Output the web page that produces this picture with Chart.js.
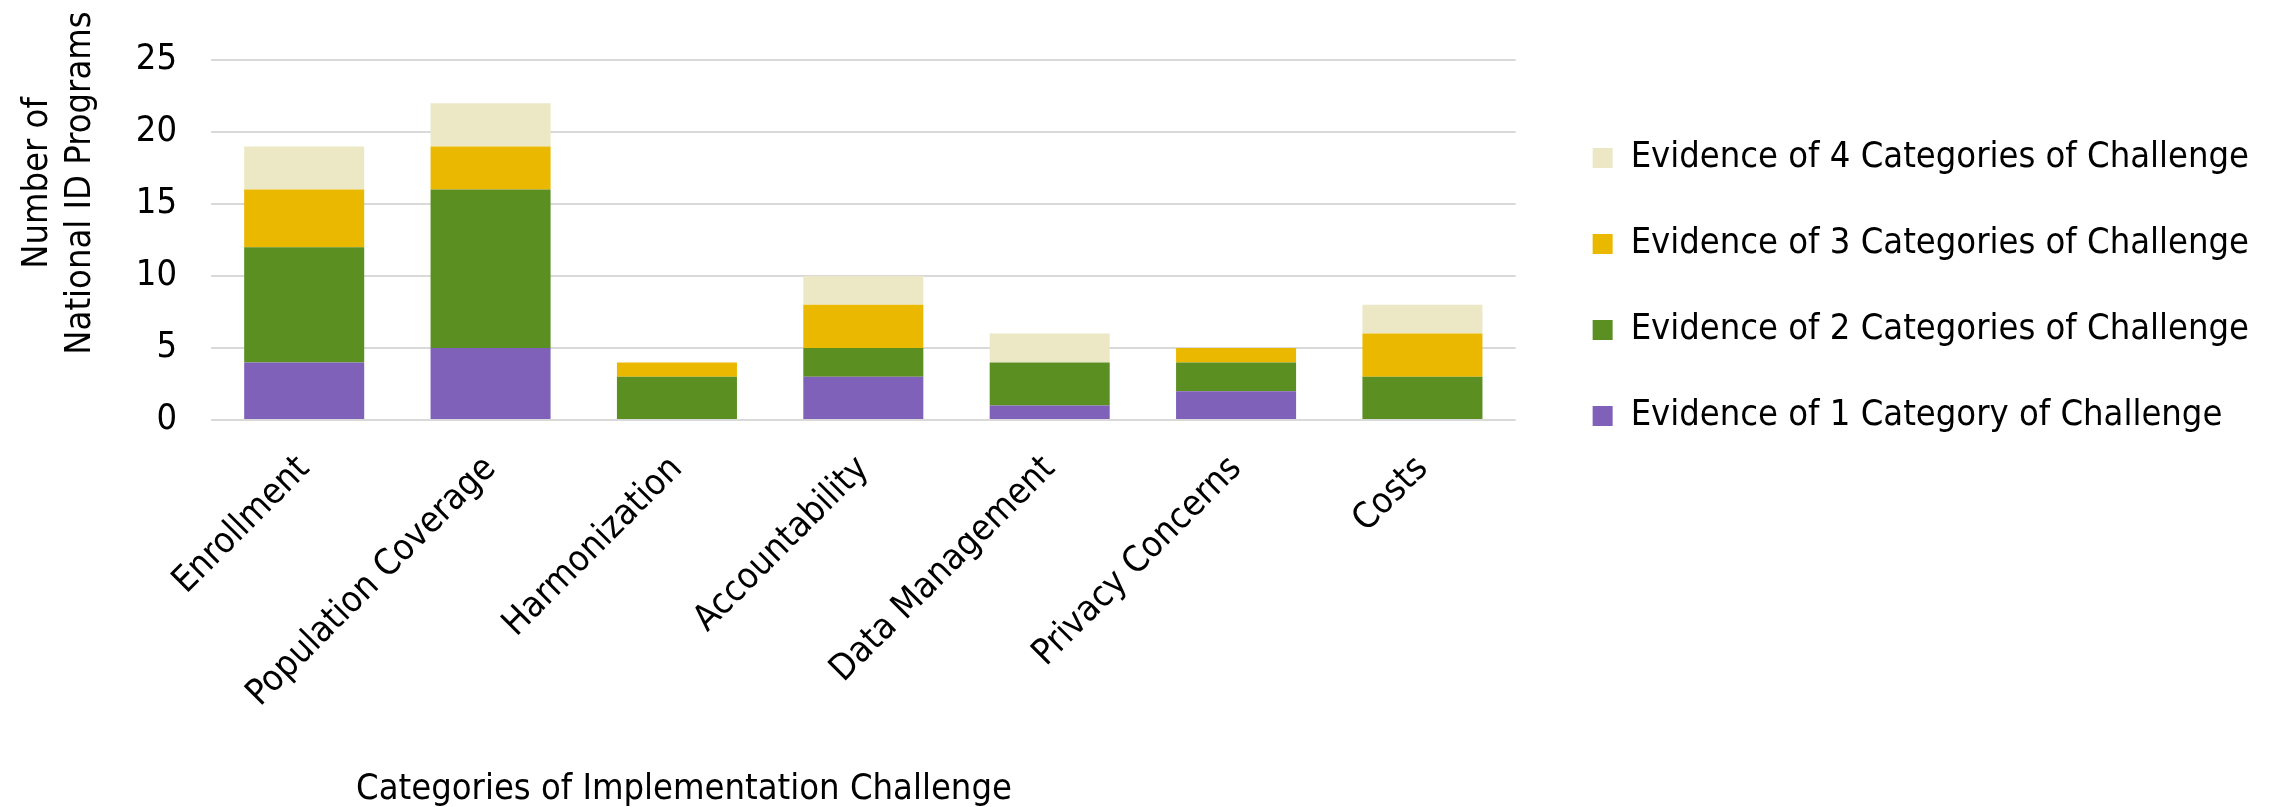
<!DOCTYPE html>
<html>
<head>
<meta charset="utf-8">
<script src="https://cdn.jsdelivr.net/npm/chart.js@4/dist/chart.umd.min.js"></script>
<style>
    html, body { margin: 0; padding: 0; background: #fff; }
    #wrap { width: 2285px; height: 807px; position: relative; }
</style>
</head>
<body>
<div id="wrap"><canvas id="chart"></canvas></div>
<script>
const categories = ['Enrollment', 'Population Coverage', 'Harmonization', 'Accountability',
    'Data Management', 'Privacy Concerns', 'Costs'];

// programs per challenge, split by how many challenge categories they show
const oneCategory = [4, 5, 0, 3, 1, 2, 0];
const twoCategories = [8, 11, 3, 2, 3, 2, 3];
const threeCategories = [4, 3, 1, 3, 0, 1, 3];
const fourCategories = [3, 3, 0, 2, 2, 0, 2];

const seriesNames = [
    'Evidence of 1 Category of Challenge',
    'Evidence of 2 Categories of Challenge',
    'Evidence of 3 Categories of Challenge',
    'Evidence of 4 Categories of Challenge'
];
const yTicks = [0, 5, 10, 15, 20, 25];
const yTitle = ['Number of', 'National ID Programs'];
const xTitle = 'Categories of Implementation Challenge';

const FONT = '"DejaVu Sans Condensed", "DejaVu Sans", sans-serif';
const colors = ['#7f61b9', '#5b8f22', '#ebb800', '#ece8c6'];

// axis titles sit off-centre in the original, so draw them by hand
const axisTitles = {
    id: 'axisTitles',
    afterDraw(chart) {
        const ctx = chart.ctx;
        ctx.save();
        ctx.fillStyle = '#000';
        ctx.font = '36px ' + FONT;
        ctx.textAlign = 'center';
        ctx.textBaseline = 'alphabetic';
        const xs = [47, 90];
        yTitle.forEach((line, i) => {
            ctx.save();
            ctx.translate(xs[i], 183);
            ctx.rotate(-Math.PI / 2);
            ctx.fillText(line, 0, 0);
            ctx.restore();
        });
        ctx.fillText(xTitle, 684, 799);
        ctx.restore();
    }
};

const datasets = [oneCategory, twoCategories, threeCategories, fourCategories].map((vals, i) => ({
    label: seriesNames[i],
    data: vals,
    backgroundColor: colors[i],
    borderWidth: 0,
    categoryPercentage: 1,
    barPercentage: 0.644
}));

new Chart(document.getElementById('chart'), {
    type: 'bar',
    data: { labels: categories, datasets: datasets },
    plugins: [axisTitles],
    options: {
        responsive: true,
        maintainAspectRatio: false,
        animation: false,
        layout: { padding: { top: 60, right: 26, bottom: 0, left: 0 } },
        plugins: {
            tooltip: { enabled: false },
            legend: {
                position: 'right',
                align: 'start',
                reverse: true,
                maxWidth: 900,
                title: { display: true, text: '', padding: 0, font: { size: 25 } },
                labels: {
                    boxWidth: 20,
                    boxHeight: 20,
                    padding: 50,
                    color: '#000',
                    font: { family: FONT, size: 36 }
                }
            }
        },
        scales: {
            x: {
                stacked: true,
                grid: { display: false },
                border: { display: false },
                ticks: {
                    autoSkip: false,
                    maxRotation: 45,
                    minRotation: 45,
                    padding: 20,
                    color: '#000',
                    font: { family: FONT, size: 36 }
                },
                afterFit: s => { s.height = 387; }
            },
            y: {
                stacked: true,
                min: 0,
                max: 25,
                afterBuildTicks: s => { s.ticks = yTicks.map(v => ({ value: v })); },
                grid: { color: '#d9d9d9', lineWidth: 2, drawTicks: false },
                border: { display: false },
                ticks: {
                    padding: 34,
                    color: '#000',
                    font: { family: FONT, size: 36 }
                },
                afterFit: s => { s.width = 211; }
            },
            gap: {
                position: 'right',
                display: true,
                grid: { display: false },
                border: { display: false },
                ticks: { display: false },
                afterFit: s => { s.width = 27; }
            }
        }
    }
});
</script>
</body>
</html>
